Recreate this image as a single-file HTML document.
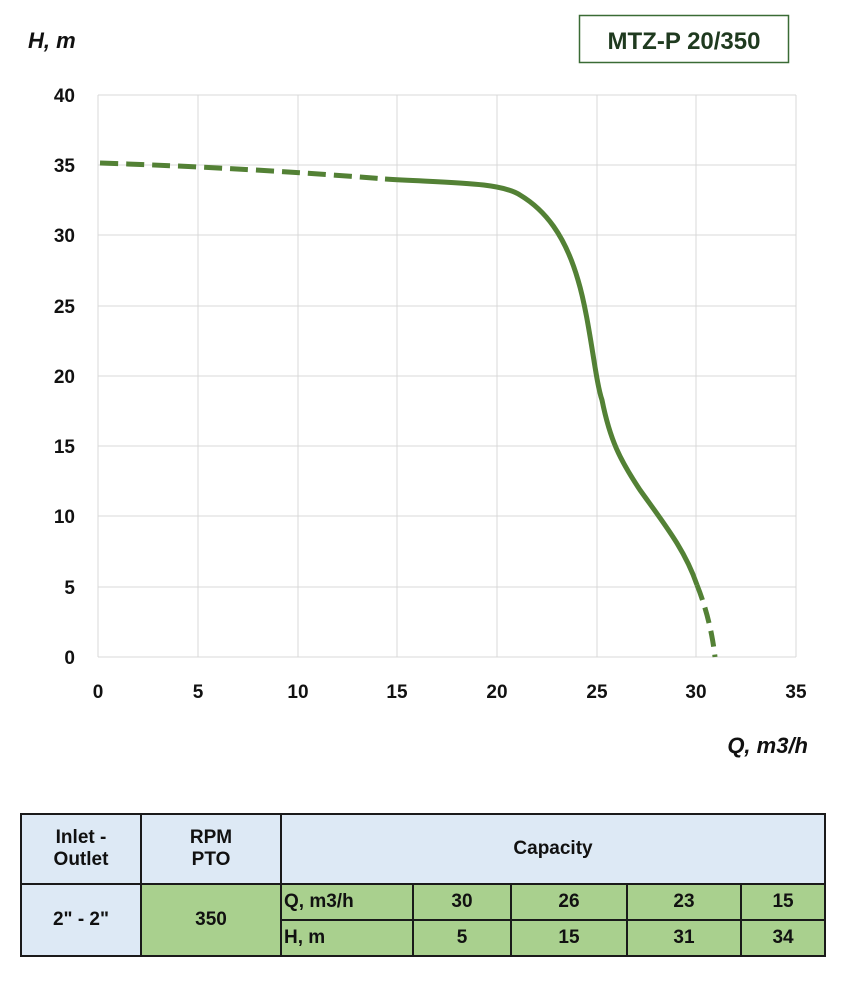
<!DOCTYPE html>
<html><head><meta charset="utf-8"><style>
body{margin:0;background:#fff;width:852px;height:1000px;overflow:hidden;font-family:"Liberation Sans",sans-serif}
table{position:absolute;left:20px;top:813px;width:804px;table-layout:fixed;border-collapse:collapse;font-weight:bold;font-size:19px;color:#111}
td{border:2px solid #1a1a1a;text-align:center;padding:0;overflow:hidden;white-space:nowrap}
.b{background:#dde9f5}.g{background:#a9d08e}
</style></head><body>
<svg width="852" height="800" style="position:absolute;left:0;top:0" font-family="Liberation Sans, sans-serif" font-weight="bold">
<g stroke="#d9d9d9" stroke-width="1">
<line x1="98" y1="95" x2="796" y2="95"/><line x1="98" y1="165" x2="796" y2="165"/><line x1="98" y1="235" x2="796" y2="235"/><line x1="98" y1="306" x2="796" y2="306"/><line x1="98" y1="376" x2="796" y2="376"/><line x1="98" y1="446" x2="796" y2="446"/><line x1="98" y1="516" x2="796" y2="516"/><line x1="98" y1="587" x2="796" y2="587"/><line x1="98" y1="657" x2="796" y2="657"/>
<line x1="98" y1="95" x2="98" y2="657"/><line x1="198" y1="95" x2="198" y2="657"/><line x1="298" y1="95" x2="298" y2="657"/><line x1="397" y1="95" x2="397" y2="657"/><line x1="497" y1="95" x2="497" y2="657"/><line x1="597" y1="95" x2="597" y2="657"/><line x1="696" y1="95" x2="696" y2="657"/><line x1="796" y1="95" x2="796" y2="657"/>
</g>
<g font-size="19" fill="#111" text-anchor="end">
<text x="75" y="102">40</text><text x="75" y="172">35</text><text x="75" y="242">30</text><text x="75" y="313">25</text><text x="75" y="383">20</text><text x="75" y="453">15</text><text x="75" y="523">10</text><text x="75" y="594">5</text><text x="75" y="664">0</text>
</g>
<g font-size="19" fill="#111" text-anchor="middle">
<text x="98" y="698">0</text><text x="198" y="698">5</text><text x="298" y="698">10</text><text x="397" y="698">15</text><text x="497" y="698">20</text><text x="597" y="698">25</text><text x="696" y="698">30</text><text x="796" y="698">35</text>
</g>
<text x="28" y="48" font-size="22" font-style="italic" fill="#111">H, m</text>
<text x="808" y="753" font-size="22" font-style="italic" fill="#111" text-anchor="end">Q, m3/h</text>
<rect x="579.5" y="15.5" width="209" height="47" fill="none" stroke="#3a6b35" stroke-width="1.5"/>
<text x="684" y="49" font-size="24" fill="#1f3a1f" text-anchor="middle">MTZ-P 20/350</text>
<g fill="none" stroke="#538135" stroke-width="5" stroke-linecap="butt">
<path d="M100 163 Q250 168 385 179" stroke-dasharray="18 8"/>
<path d="M385 179 C450 183 500 182 520 195 C545 210 565 235 578 280 C590 320 595 380 602 400 C610 440 620 460 640 490 C665 525 685 550 697 585"/>
<path d="M697 585 C705 605 712 630 715 657" stroke-dasharray="16 8"/>
</g>
<line x1="0" y1="803" x2="852" y2="803" stroke="#ddd" stroke-width="2"/>
</svg>
<table>
<colgroup><col style="width:120px"><col style="width:140px"><col style="width:132px"><col style="width:98px"><col style="width:116px"><col style="width:114px"><col style="width:84px"></colgroup>
<tr style="height:70px"><td class="b">Inlet -<br>Outlet</td><td class="b">RPM<br>PTO</td><td class="b" colspan="5">Capacity</td></tr>
<tr style="height:36px"><td class="b" rowspan="2">2" - 2"</td><td class="g" rowspan="2">350</td><td class="g" style="text-align:left;padding-left:2px">Q, m3/h</td><td class="g">30</td><td class="g">26</td><td class="g">23</td><td class="g">15</td></tr>
<tr style="height:36px"><td class="g" style="text-align:left;padding-left:2px">H, m</td><td class="g">5</td><td class="g">15</td><td class="g">31</td><td class="g">34</td></tr>
</table>
</body></html>
